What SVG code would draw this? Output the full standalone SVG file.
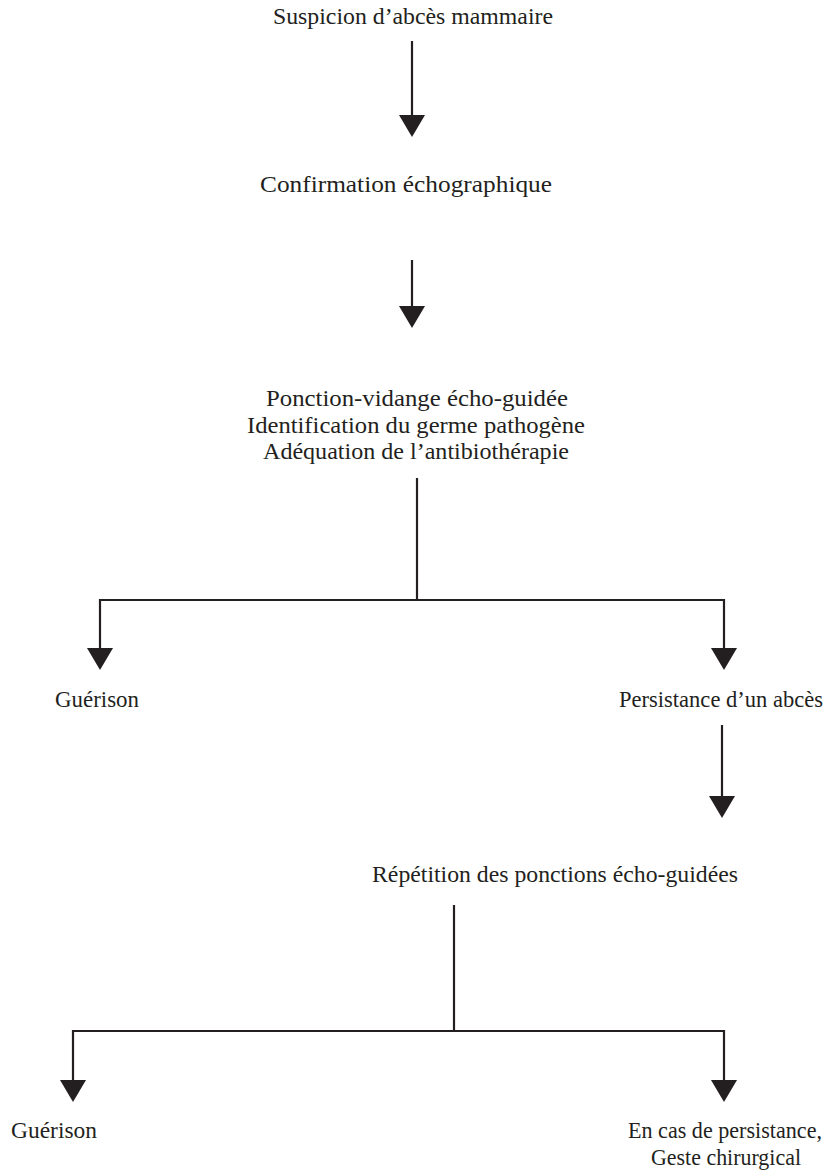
<svg xmlns="http://www.w3.org/2000/svg" width="834" height="1176" viewBox="0 0 834 1176">
  <style>
    .lbl { font-family: "Liberation Serif", "Times New Roman", serif; font-size: 23px; fill: #231f20; text-anchor: middle; }
    .wire { fill: none; stroke: #231f20; stroke-width: 2.2; }
    .head { fill: #231f20; }
  </style>
  <defs>
    <!-- downward arrowhead, tip at origin -->
    <polygon id="tip" class="head" points="-13,-22 13,-22 0,0"/>
  </defs>

  <rect width="834" height="1176" fill="#ffffff"/>

  <g id="connectors">
    <line class="wire" x1="412" y1="41" x2="412" y2="116"/>
    <use href="#tip" x="412" y="137"/>

    <line class="wire" x1="412" y1="260" x2="412" y2="307"/>
    <use href="#tip" x="412" y="328"/>

    <polyline class="wire" points="417,478 417,600"/>
    <polyline class="wire" points="100,650 100,600 724,600 724,650"/>
    <use href="#tip" x="100" y="670"/>
    <use href="#tip" x="724" y="670"/>

    <line class="wire" x1="722" y1="725" x2="722" y2="797"/>
    <use href="#tip" x="722" y="818"/>

    <polyline class="wire" points="454,905 454,1031"/>
    <polyline class="wire" points="73,1081 73,1031 724,1031 724,1081"/>
    <use href="#tip" x="73" y="1102"/>
    <use href="#tip" x="724" y="1102"/>
  </g>

  <g id="n-suspicion">
    <text class="lbl" x="413" y="24" textLength="280" lengthAdjust="spacingAndGlyphs">Suspicion d’abcès mammaire</text>
  </g>
  <g id="n-confirmation">
    <text class="lbl" x="406" y="192" textLength="292" lengthAdjust="spacingAndGlyphs">Confirmation échographique</text>
  </g>
  <g id="n-ponction">
    <text class="lbl" x="417" y="406" textLength="302" lengthAdjust="spacingAndGlyphs">Ponction-vidange écho-guidée</text>
    <text class="lbl" x="416" y="433" textLength="338" lengthAdjust="spacingAndGlyphs">Identification du germe pathogène</text>
    <text class="lbl" x="416" y="459" textLength="306" lengthAdjust="spacingAndGlyphs">Adéquation de l’antibiothérapie</text>
  </g>
  <g id="n-guerison-1">
    <text class="lbl" x="97" y="707" textLength="84" lengthAdjust="spacingAndGlyphs">Guérison</text>
  </g>
  <g id="n-persistance">
    <text class="lbl" x="721" y="707" textLength="204" lengthAdjust="spacingAndGlyphs">Persistance d’un abcès</text>
  </g>
  <g id="n-repetition">
    <text class="lbl" x="555" y="882" textLength="366" lengthAdjust="spacingAndGlyphs">Répétition des ponctions écho-guidées</text>
  </g>
  <g id="n-guerison-2">
    <text class="lbl" x="54" y="1138" textLength="86" lengthAdjust="spacingAndGlyphs">Guérison</text>
  </g>
  <g id="n-chirurgie">
    <text class="lbl" x="725" y="1138" textLength="194" lengthAdjust="spacingAndGlyphs">En cas de persistance,</text>
    <text class="lbl" x="726" y="1165" textLength="150" lengthAdjust="spacingAndGlyphs">Geste chirurgical</text>
  </g>
</svg>
